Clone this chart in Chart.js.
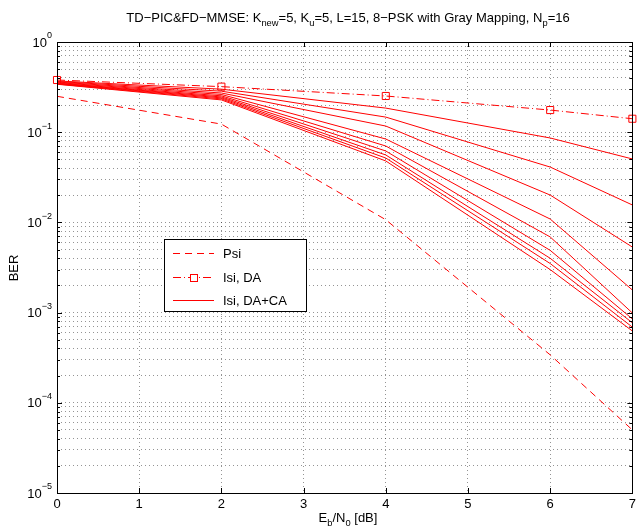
<!DOCTYPE html>
<html>
<head>
<meta charset="utf-8">
<script src="https://cdn.jsdelivr.net/npm/chart.js@4/dist/chart.umd.min.js"></script>
<style>
html, body { margin: 0; padding: 0; background: #fff; }
canvas { display: block; }
</style>
</head>
<body>
<canvas id="chart" width="640" height="529"></canvas>
<script>
// Eb/N0 points [dB]
var snr = [0, 2, 4, 6, 7];
var psi = [0.25, 0.123, 0.0107, 0.00034, 0.00005];
var isiDA = [0.379, 0.32, 0.252, 0.176, 0.141];
// DA+CA iterations, one row per curve
var isiDACA = [
	[0.370, 0.300, 0.185, 0.0863, 0.0505],
	[0.365, 0.285, 0.147, 0.0411, 0.0156],
	[0.360, 0.272, 0.117, 0.0201, 0.00533],
	[0.355, 0.262, 0.084, 0.0109, 0.00178],
	[0.350, 0.253, 0.0703, 0.0069, 0.00099],
	[0.347, 0.246, 0.0619, 0.0049, 0.00085],
	[0.345, 0.240, 0.0559, 0.0040, 0.00077],
	[0.342, 0.234, 0.0517, 0.0035, 0.00069],
	[0.340, 0.228, 0.0480, 0.0030, 0.000625]
];
var xTicks = [0, 1, 2, 3, 4, 5, 6, 7];
var decades = [-5, -4, -3, -2, -1, 0];
var legendLabels = ['Psi', 'Isi, DA', 'Isi, DA+CA'];

var FONT = '"Liberation Sans", Arial, Helvetica, sans-serif';
var FS = 13;
var RED = '#ff0000';

function pts(arr) {
	return arr.map(function (v, i) { return { x: snr[i], y: v }; });
}

var datasets = [];
isiDACA.forEach(function (row) {
	datasets.push({ data: pts(row), borderColor: RED, borderWidth: 1, pointRadius: 0, clip: false });
});
datasets.push({ data: pts(isiDA), borderColor: RED, borderWidth: 1, borderDash: [8, 3, 1, 3],
	pointStyle: 'rect', pointRadius: 5, pointBorderColor: RED, pointBackgroundColor: 'rgba(0,0,0,0)', pointBorderWidth: 1, clip: false });
datasets.push({ data: pts(psi), borderColor: RED, borderWidth: 1, borderDash: [7, 5], pointRadius: 0, clip: false });

// text with sub/superscripts: parts = [[text, shift]], shift 0 normal, 1 sub, -1 sup
function partsWidth(ctx, parts, size) {
	var w = 0;
	parts.forEach(function (p) {
		ctx.font = (p[1] ? size * 0.72 : size) + 'px ' + FONT;
		w += ctx.measureText(p[0]).width;
	});
	return w;
}
function drawParts(ctx, parts, x, y, size) {
	ctx.textBaseline = 'middle';
	ctx.textAlign = 'left';
	parts.forEach(function (p) {
		ctx.font = (p[1] ? size * 0.72 : size) + 'px ' + FONT;
		ctx.fillText(p[0], x, y + p[1] * size * 0.42);
		x += ctx.measureText(p[0]).width;
	});
}

var decor = {
	id: 'decor',
	afterDraw: function (c) {
		var ctx = c.ctx, a = c.chartArea, xs = c.scales.x, ys = c.scales.y;
		ctx.save();
		ctx.fillStyle = '#000';
		ctx.strokeStyle = '#000';
		ctx.lineWidth = 1;
		ctx.setLineDash([]);

		// inward ticks
		ctx.beginPath();
		xTicks.forEach(function (v) {
			var px = Math.round(xs.getPixelForValue(v)) + 0.5;
			ctx.moveTo(px, a.bottom); ctx.lineTo(px, a.bottom - 5);
			ctx.moveTo(px, a.top); ctx.lineTo(px, a.top + 5);
		});
		decades.forEach(function (d) {
			for (var m = 1; m < 10; m++) {
				var v = m * Math.pow(10, d);
				if (v > 1) break;
				var py = Math.round(ys.getPixelForValue(v)) + 0.5;
				var len = m === 1 ? 5 : 3;
				ctx.moveTo(a.left, py); ctx.lineTo(a.left + len, py);
				ctx.moveTo(a.right, py); ctx.lineTo(a.right - len, py);
			}
		});
		ctx.stroke();

		// box
		ctx.strokeRect(Math.round(a.left) + 0.5, Math.round(a.top) + 0.5,
			Math.round(a.right - a.left), Math.round(a.bottom - a.top));

		// y tick labels 10^d
		decades.forEach(function (d) {
			var py = ys.getPixelForValue(Math.pow(10, d));
			var exp = d === 0 ? '0' : '\u2212' + (-d);
			ctx.font = '9px ' + FONT;
			var ew = ctx.measureText(exp).width;
			ctx.font = FS + 'px ' + FONT;
			var bw = ctx.measureText('10').width;
			var right = a.left - 5;
			drawParts(ctx, [['10', 0]], right - ew - bw, py + 1, FS);
			ctx.font = '9px ' + FONT;
			ctx.fillText(exp, right - ew, py - 6);
		});

		// title
		var title = [['TD\u2212PIC&FD\u2212MMSE: K', 0], ['new', 1], ['=5, K', 0], ['u', 1],
			['=5, L=15, 8\u2212PSK with Gray Mapping, N', 0], ['p', 1], ['=16', 0]];
		var tw = partsWidth(ctx, title, FS);
		drawParts(ctx, title, 348 - tw / 2, 18, FS);

		// x label
		var xl = [['E', 0], ['b', 1], ['/N', 0], ['0', 1], [' [dB]', 0]];
		var xw = partsWidth(ctx, xl, FS);
		drawParts(ctx, xl, 348 - xw / 2, 518, FS);

		// y label
		ctx.save();
		ctx.translate(14, 268);
		ctx.rotate(-Math.PI / 2);
		ctx.font = FS + 'px ' + FONT;
		ctx.textAlign = 'center';
		ctx.textBaseline = 'middle';
		ctx.fillText('BER', 0, 0);
		ctx.restore();

		// legend
		var lx = 164, ly = 239, lw = 142, lh = 72;
		ctx.fillStyle = '#fff';
		ctx.fillRect(lx, ly, lw, lh);
		ctx.strokeRect(lx + 0.5, ly + 0.5, lw, lh);
		var rows = [253, 277, 300];
		var dashes = [[7, 5], [8, 3, 1, 3], []];
		ctx.strokeStyle = RED;
		rows.forEach(function (ry, i) {
			ctx.setLineDash(dashes[i]);
			ctx.beginPath();
			ctx.moveTo(173, ry + 0.5); ctx.lineTo(214, ry + 0.5);
			ctx.stroke();
			if (i === 1) {
				ctx.setLineDash([]);
				ctx.fillStyle = '#fff';
				ctx.fillRect(190, ry - 3, 7, 7);
				ctx.strokeRect(190.5, ry - 2.5, 7, 7);
			}
			ctx.setLineDash([]);
			ctx.fillStyle = '#000';
			ctx.font = FS + 'px ' + FONT;
			ctx.textAlign = 'left';
			ctx.textBaseline = 'middle';
			ctx.fillText(legendLabels[i], 223, ry + 1);
		});
		ctx.restore();
	}
};

var ctx = document.getElementById('chart');
var chart = new Chart(ctx, {
	type: 'line',
	data: { datasets: datasets },
	options: {
		responsive: false,
		animation: false,
		devicePixelRatio: 1,
		layout: { padding: { left: 0, right: 3, top: 42, bottom: 0 } },
		plugins: { legend: { display: false }, tooltip: { enabled: false }, title: { display: false } },
		elements: { line: { tension: 0 } },
		scales: {
			x: {
				type: 'linear', min: 0, max: 7,
				afterBuildTicks: function (s) { s.ticks = xTicks.map(function (v) { return { value: v }; }); },
				afterFit: function (s) { s.height = 36; },
				ticks: { padding: 4, color: '#000', font: { family: FONT, size: FS }, maxRotation: 0,
					callback: function (v) { return String(v); } },
				grid: { color: 'rgba(0,0,0,0.42)', drawTicks: false, lineWidth: 1 },
				border: { display: false, dash: [1, 3] }
			},
			y: {
				type: 'logarithmic', min: 1e-5, max: 1,
				afterBuildTicks: function (s) {
					var t = [];
					decades.forEach(function (d) {
						for (var m = 1; m < 10; m++) {
							var v = m * Math.pow(10, d);
							if (v <= 1) t.push({ value: v });
						}
					});
					s.ticks = t;
				},
				afterFit: function (s) { s.width = 57; },
				ticks: { display: false },
				grid: { color: 'rgba(0,0,0,0.42)', drawTicks: false, lineWidth: 1 },
				border: { display: false, dash: [1, 3] }
			}
		}
	},
	plugins: [decor]
});
</script>
</body>
</html>
